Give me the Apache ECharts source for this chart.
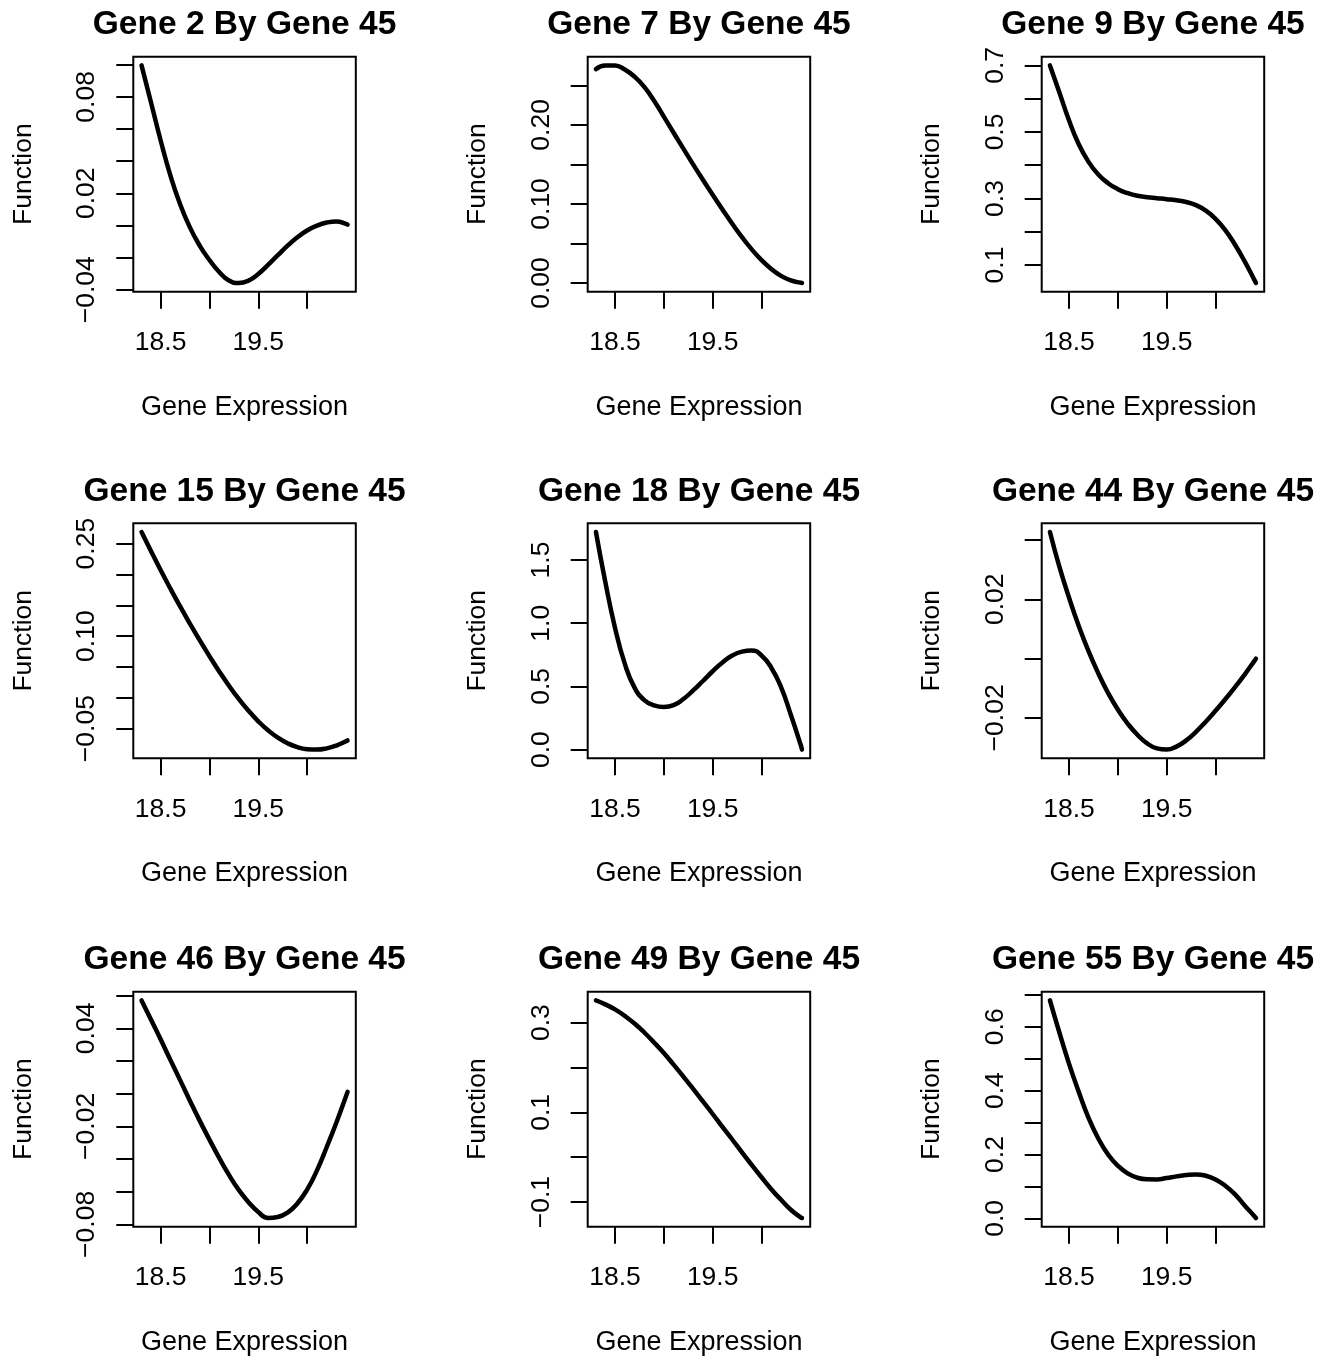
<!DOCTYPE html>
<html>
<head>
<meta charset="utf-8">
<script src="https://cdn.jsdelivr.net/npm/echarts@6/dist/echarts.min.js"></script>
<style>
html,body{margin:0;padding:0;background:#ffffff;}
#chart{width:1335px;height:1357px;}
</style>
</head>
<body>
<div id="chart"></div>
<script>
// ---------------- DATA ----------------
// Gene 45 expression (shared x values)
const GENE45_X = [18.305, 18.4, 18.5, 18.6, 18.7, 18.8, 18.9, 19.0, 19.1, 19.2, 19.3, 19.4,
                  19.5, 19.6, 19.7, 19.8, 19.9, 20.0, 20.1, 20.2, 20.3, 20.4, 20.414];

// Estimated function values for each gene
const GENE2_Y  = [0.0996, 0.0770, 0.0530, 0.0312, 0.0132, -0.0012, -0.0125, -0.0215, -0.0290, -0.0343, -0.0358, -0.0343,
                  -0.0302, -0.0245, -0.0185, -0.0126, -0.0073, -0.0031, -0.0001, 0.0018, 0.0025, 0.0010, 0.0005];
const GENE7_Y  = [0.2705, 0.2750, 0.2752, 0.2700, 0.2610, 0.2480, 0.2305, 0.2105, 0.1900, 0.1700, 0.1500, 0.1305,
                  0.1115, 0.0930, 0.0750, 0.0580, 0.0425, 0.0290, 0.0178, 0.0090, 0.0032, 0.0004, 0.0000];
const GENE9_Y  = [0.700, 0.620, 0.535, 0.463, 0.410, 0.372, 0.346, 0.328, 0.316, 0.308, 0.304, 0.301,
                  0.298, 0.2945, 0.2895, 0.280, 0.2635, 0.239, 0.205, 0.161, 0.110, 0.054, 0.046];
const GENE15_Y = [0.2688, 0.2384, 0.2071, 0.1771, 0.1481, 0.1203, 0.0934, 0.0676, 0.0428, 0.0196, -0.0017, -0.0210,
                  -0.0381, -0.0527, -0.0646, -0.0737, -0.0800, -0.0833, -0.0840, -0.0820, -0.0774, -0.0703, -0.0692];
const GENE18_Y = [1.722, 1.330, 0.965, 0.680, 0.490, 0.392, 0.350, 0.337, 0.352, 0.400, 0.468, 0.543,
                  0.620, 0.690, 0.744, 0.775, 0.784, 0.745, 0.648, 0.495, 0.275, 0.040, 0.000];
const GENE44_Y = [0.0427, 0.0312, 0.0206, 0.0110, 0.0025, -0.0050, -0.0116, -0.0172, -0.0219, -0.0257, -0.0286, -0.0303,
                  -0.0307, -0.0297, -0.0276, -0.0247, -0.0213, -0.0176, -0.0137, -0.0096, -0.0053, -0.0007, 0.0000];
const GENE46_Y = [0.0571, 0.0455, 0.0333, 0.0207, 0.0083, -0.0043, -0.0165, -0.0281, -0.0393, -0.0497, -0.0589, -0.0664,
                  -0.0724, -0.0761, -0.0755, -0.0728, -0.0672, -0.0587, -0.0471, -0.0328, -0.0176, -0.0013, 0.0011];
const GENE49_Y = [0.3494, 0.3406, 0.3295, 0.3148, 0.2978, 0.2779, 0.2557, 0.2321, 0.2063, 0.1797, 0.1524, 0.1244,
                  0.0963, 0.0675, 0.0395, 0.0107, -0.0173, -0.0446, -0.0712, -0.0948, -0.1170, -0.1339, -0.1354];
const GENE55_Y = [0.6825, 0.5835, 0.4845, 0.3960, 0.3147, 0.2500, 0.2000, 0.1646, 0.1407, 0.1271, 0.1222, 0.1218,
                  0.1261, 0.1313, 0.1355, 0.1375, 0.1334, 0.1219, 0.1021, 0.0750, 0.0396, 0.0060, 0.0010];

const PANEL_TITLES = ['Gene 2 By Gene 45', 'Gene 7 By Gene 45', 'Gene 9 By Gene 45',
                      'Gene 15 By Gene 45', 'Gene 18 By Gene 45', 'Gene 44 By Gene 45',
                      'Gene 46 By Gene 45', 'Gene 49 By Gene 45', 'Gene 55 By Gene 45'];
const X_AXIS_TITLE = 'Gene Expression';
const Y_AXIS_TITLE = 'Function';

// tick marks and tick labels
const X_TICKS = [18.5, 19.0, 19.5, 20.0];
const X_TICK_LABELS = [18.5, 19.5];

const Y_TICKS_2  = [-0.04, -0.02, 0.00, 0.02, 0.04, 0.06, 0.08, 0.10];
const Y_LABELS_2 = [-0.04, 0.02, 0.08];
const Y_TICKS_7  = [0.00, 0.05, 0.10, 0.15, 0.20, 0.25];
const Y_LABELS_7 = [0.00, 0.10, 0.20];
const Y_TICKS_9  = [0.1, 0.2, 0.3, 0.4, 0.5, 0.6, 0.7];
const Y_LABELS_9 = [0.1, 0.3, 0.5, 0.7];
const Y_TICKS_15  = [-0.05, 0.00, 0.05, 0.10, 0.15, 0.20, 0.25];
const Y_LABELS_15 = [-0.05, 0.10, 0.25];
const Y_TICKS_18  = [0.0, 0.5, 1.0, 1.5];
const Y_LABELS_18 = [0.0, 0.5, 1.0, 1.5];
const Y_TICKS_44  = [-0.02, 0.00, 0.02, 0.04];
const Y_LABELS_44 = [-0.02, 0.02];
const Y_TICKS_46  = [-0.08, -0.06, -0.04, -0.02, 0.00, 0.02, 0.04, 0.06];
const Y_LABELS_46 = [-0.08, -0.02, 0.04];
const Y_TICKS_49  = [-0.1, 0.0, 0.1, 0.2, 0.3];
const Y_LABELS_49 = [-0.1, 0.1, 0.3];
const Y_TICKS_55  = [0.0, 0.1, 0.2, 0.3, 0.4, 0.5, 0.6, 0.7];
const Y_LABELS_55 = [0.0, 0.2, 0.4, 0.6];
const Y_DECIMALS = [2, 2, 1, 2, 1, 2, 2, 1, 1];

// ---------------- LAYOUT / STYLE ----------------
const PANEL_Y = [GENE2_Y, GENE7_Y, GENE9_Y, GENE15_Y, GENE18_Y, GENE44_Y, GENE46_Y, GENE49_Y, GENE55_Y];
const PANEL_YTICKS = [Y_TICKS_2, Y_TICKS_7, Y_TICKS_9, Y_TICKS_15, Y_TICKS_18, Y_TICKS_44, Y_TICKS_46, Y_TICKS_49, Y_TICKS_55];
const PANEL_YLABELS = [Y_LABELS_2, Y_LABELS_7, Y_LABELS_9, Y_LABELS_15, Y_LABELS_18, Y_LABELS_44, Y_LABELS_46, Y_LABELS_49, Y_LABELS_55];

const COL_LEFT = [133.3, 587.7, 1041.7];
const ROW_TOP = [56.7, 523.3, 991.7];
const BOX_W = 222.5;
const BOX_H = 235;
const FONT = '"Liberation Sans", Arial, Helvetica, sans-serif';
const INK = '#000000';

// R-style axis range: data range extended by 4% on each side
function rRange(arr) {
  const mn = Math.min.apply(null, arr), mx = Math.max.apply(null, arr);
  const pad = 0.04 * (mx - mn);
  return [mn - pad, mx + pad];
}
function fmt(v, d) {
  return v.toFixed(d).replace('-', '\u2212');
}

const xr = rRange(GENE45_X);
const grids = [], xAxes = [], yAxes = [], series = [], graphics = [];

for (let i = 0; i < 9; i++) {
  const col = i % 3, row = Math.floor(i / 3);
  const left = COL_LEFT[col], top = ROW_TOP[row];
  const yr = rRange(PANEL_Y[i]);
  const dec = Y_DECIMALS[i];

  grids.push({
    left: left, top: top, width: BOX_W, height: BOX_H,
    show: true, borderColor: INK, borderWidth: 2,
    backgroundColor: 'rgba(0,0,0,0)', containLabel: false, outerBoundsMode: 'none'
  });

  xAxes.push({
    type: 'value', gridIndex: i, min: xr[0], max: xr[1], position: 'bottom',
    axisLine: { show: false, onZero: false }, splitLine: { show: false },
    axisTick: { show: true, inside: false, length: 17, lineStyle: { color: INK, width: 2 }, customValues: X_TICKS },
    axisLabel: { show: true, customValues: X_TICK_LABELS, margin: 37.5, fontSize: 26.5, color: INK, fontFamily: FONT,
                 formatter: function (v) { return fmt(v, 1); } },
    name: X_AXIS_TITLE, nameLocation: 'middle', nameGap: 102,
    nameTextStyle: { fontSize: 27, color: INK, fontFamily: FONT }
  });

  yAxes.push({
    type: 'value', gridIndex: i, min: yr[0], max: yr[1], position: 'left',
    axisLine: { show: false, onZero: false }, splitLine: { show: false },
    axisTick: { show: true, inside: false, length: 17, lineStyle: { color: INK, width: 2 }, customValues: PANEL_YTICKS[i] },
    axisLabel: { show: true, customValues: PANEL_YLABELS[i], rotate: 90, margin: 33, fontSize: 26.5, color: INK, fontFamily: FONT,
                 formatter: function (v) { return fmt(v, dec); } },
    name: Y_AXIS_TITLE, nameLocation: 'middle', nameRotate: 90, nameGap: 96.5,
    nameTextStyle: { fontSize: 26.5, color: INK, fontFamily: FONT }
  });

  series.push({
    type: 'line', xAxisIndex: i, yAxisIndex: i,
    data: GENE45_X.map(function (x, k) { return [x, PANEL_Y[i][k]]; }),
    showSymbol: false, symbol: 'none', smooth: 0.5,
    lineStyle: { color: INK, width: 4.5, cap: 'round', join: 'round' },
    silent: true
  });

  graphics.push({
    type: 'text', x: left + BOX_W / 2, y: top - 32, silent: true,
    style: {
      text: PANEL_TITLES[i], fill: INK,
      font: 'bold 33.5px ' + FONT,
      align: 'center', verticalAlign: 'middle',
      textAlign: 'center', textVerticalAlign: 'middle'
    }
  });
}

const chart = echarts.init(document.getElementById('chart'), null, { renderer: 'canvas' });
chart.setOption({
  backgroundColor: '#ffffff',
  animation: false,
  textStyle: { fontFamily: FONT, color: INK },
  grid: grids,
  xAxis: xAxes,
  yAxis: yAxes,
  series: series,
  graphic: graphics
});
</script>
</body>
</html>
